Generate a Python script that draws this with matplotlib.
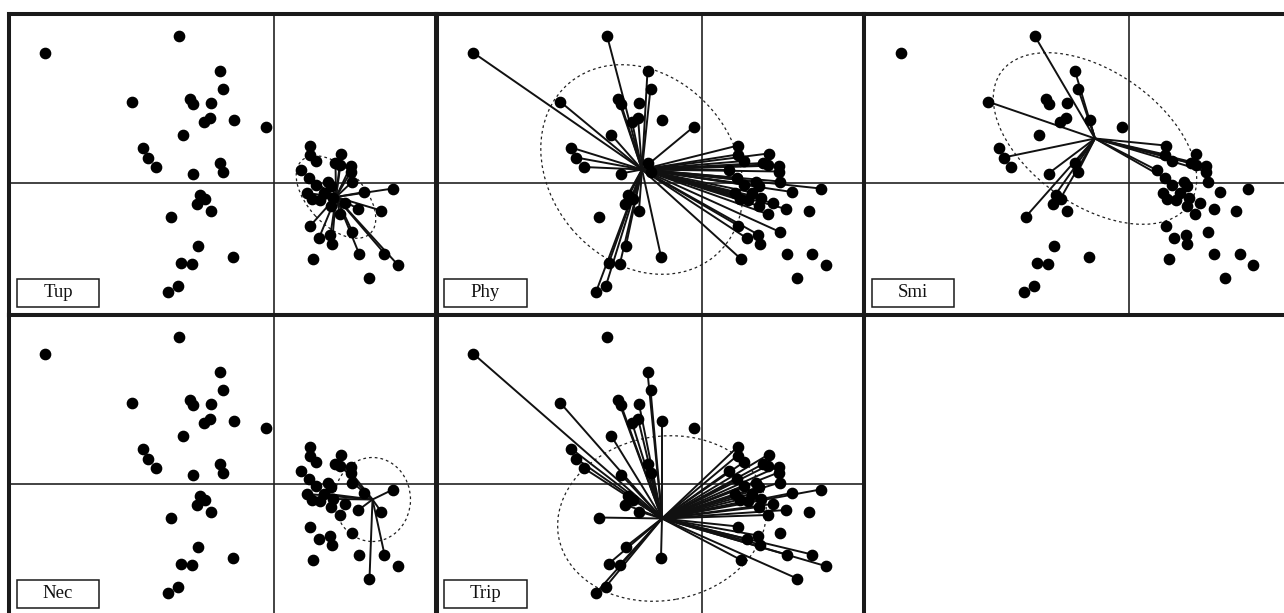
import matplotlib
matplotlib.use("Agg")
import matplotlib.pyplot as plt
from matplotlib.patches import Ellipse, Rectangle

# Site scores on the first two ordination axes
pc1 = [-4.57, -1.89, -1.08, -1.02, -2.83, -1.67, -1.61, -1.25, -1.27, -1.39,
       -0.79, -0.15, -1.81, -2.61, -2.51, -2.36, -1.08, -1.02, -1.61, -1.47,
       -1.37, -1.53, -1.25, -2.06, -1.51, -0.81, -1.85, -1.63, -1.91, -2.11,
       0.73, 1.34, 0.72, 0.85, 1.23, 1.33, 1.54, 1.54, 0.55, 0.71,
       1.57, 0.85, 1.09, 1.15, 2.38, 1.81, 0.67, 1.01, 0.76, 0.93,
       1.19, 1.42, 1.15, 1.69, 2.14, 1.32, 0.73, 1.57, 1.13, 0.90,
       1.16, 1.70, 2.21, 0.79, 2.48, 1.91]
pc2 = [2.61, 2.95, 2.24, 1.89, 1.63, 1.69, 1.58, 1.60, 1.31, 1.23,
       1.26, 1.13, 0.97, 0.71, 0.51, 0.32, 0.40, 0.23, 0.19, -0.23,
       -0.31, -0.41, -0.55, -0.67, -1.25, -1.47, -1.59, -1.61, -2.05, -2.18,
       0.75, 0.59, 0.57, 0.44, 0.40, 0.37, 0.35, 0.23, 0.26, 0.10,
       0.03, -0.03, 0.03, -0.06, -0.11, -0.18, -0.20, -0.19, -0.31, -0.33,
       -0.30, -0.40, -0.46, -0.52, -0.55, -0.62, -0.85, -0.98, -1.03, -1.10,
       -1.21, -1.41, -1.41, -1.52, -1.64, -1.89]

species = ["Tup", "Phy", "Smi", "Nec", "Trip"]

# Sites where each taxon occurs
sites_tup = [31, 34, 35, 36, 37] + list(range(39, 63)) + [64]
sites_phy = ([0, 1, 2, 3, 4, 5, 6, 8, 9, 11, 12, 13, 14, 15, 16, 17, 18, 19,
              20, 21, 22, 24, 25, 26, 27, 28, 29]
             + list(range(30, 54)) + [55, 56, 57, 58, 59, 63])
sites_smi = [1, 2, 3, 4, 10, 14, 16, 17, 18, 19, 20, 23,
             30, 32, 34, 35, 36, 37, 38, 39]
sites_nec = [35, 37, 40, 44, 45, 46, 47, 50, 53, 54, 62, 65]
sites_trip = ([0, 2, 3, 4, 5, 6, 7, 8, 9, 10] + list(range(12, 30))
              + [i for i in range(30, 66) if i not in (54, 57)])
members = [sites_tup, sites_phy, sites_smi, sites_nec, sites_trip]

# Weighted centroids and dispersion ellipses
centre_x = [1.24, -1.19, -0.68, 1.97, -0.79]
centre_y = [-0.28, 0.27, 0.89, -0.31, -0.69]
ell_width = [2.00, 4.52, 4.60, 1.52, 4.20]
ell_height = [1.12, 3.68, 2.68, 1.68, 3.28]
ell_angle = [-47, -50, -35, 0, 10]

W, H = 1284, 613
fig = plt.figure(figsize=(W / 100, H / 100), dpi=100)
fig.patch.set_facecolor("white")

panel_w, panel_h = 427.5, 301.0
panel_pos = [(9, 13.5), (436.5, 13.5), (864, 13.5), (9, 314.5), (436.5, 314.5)]

ink = "#111111"

for k, name in enumerate(species):
    left, top = panel_pos[k]
    ax = fig.add_axes([left / W, (H - top - panel_h) / H, panel_w / W, panel_h / H])
    ax.set_xlim(-5.30, 3.25)
    ax.set_ylim(-2.63, 3.39)
    ax.set_xticks([])
    ax.set_yticks([])
    for sp in ax.spines.values():
        sp.set_linewidth(2.9)
        sp.set_color("#1a1a1a")

    ax.axhline(0, color="#222222", lw=1.2, zorder=1)
    ax.axvline(0, color="#222222", lw=1.2, zorder=1)

    ax.add_patch(Ellipse((centre_x[k], centre_y[k]), ell_width[k], ell_height[k],
                         angle=ell_angle[k], fill=False, ec="#222222", lw=0.9,
                         ls=(0, (2.2, 2.4)), zorder=2))

    for i in members[k]:
        ax.plot([centre_x[k], pc1[i]], [centre_y[k], pc2[i]], color=ink,
                lw=1.4, solid_capstyle="round", zorder=3)

    ax.plot(pc1, pc2, "o", ms=7.4, color="black", mec="black", zorder=4)

    ax.add_patch(Rectangle((0.0187, 0.025), 0.192, 0.093, transform=ax.transAxes,
                           fill=True, fc="white", ec="#1a1a1a", lw=1.1, zorder=5))
    ax.text(0.0187 + 0.096, 0.025 + 0.0465, name, transform=ax.transAxes,
            ha="center", va="center", fontsize=13.5,
            family=["Liberation Serif", "DejaVu Serif"], color="#111111", zorder=6)

fig.savefig("out.png", dpi=100)
